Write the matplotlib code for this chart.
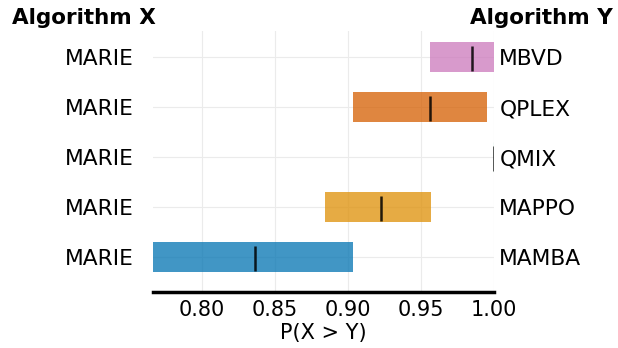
import matplotlib
matplotlib.use('Agg')
import matplotlib.pyplot as plt

# data (bottom to top)
algo_x = ['MARIE', 'MARIE', 'MARIE', 'MARIE', 'MARIE']
algo_y = ['MAMBA', 'MAPPO', 'QMIX', 'QPLEX', 'MBVD']
probs = [0.8365, 0.923, 1.0, 0.9565, 0.9854]
lower = [0.7666, 0.8845, 1.0, 0.9036, 0.9564]
upper = [0.9036, 0.9571, 1.0, 0.9954, 1.0]
colors = ['#0173b2', '#de8f05', '#029e73', '#d55e00', '#cc78bc']
xticks = [0.80, 0.85, 0.90, 0.95, 1.00]

fig = plt.figure(figsize=(6.18, 3.48), dpi=100)
W, H = 618, 348
ax = fig.add_axes([153 / W, 1 - 292 / H, (493.7 - 153) / W, (292 - 31) / H])

height = 0.6
for i in range(len(probs)):
    ax.barh(y=i, width=upper[i] - lower[i], height=height, left=lower[i],
            color=colors[i], alpha=0.75, edgecolor=colors[i], linewidth=0.8 if upper[i] == lower[i] else 0)
    ax.vlines(x=probs[i], ymin=i - 7.5 * height / 16, ymax=i + 6 * height / 16,
              color='k', alpha=0.85, linewidth=1.8)

ax.set_xlim(lower[0], 1.0)
ax.set_ylim(-0.7, 4.52)
ax.set_xticks(xticks)
ax.set_xticklabels([f'{t:.2f}' for t in xticks], fontsize=15)
ax.set_yticks(range(len(algo_x)))
ax.set_yticklabels(algo_x, fontsize=15.7)
ax.set_xlabel('P(X > Y)', fontsize=15, labelpad=2)
ax.grid(True, color='#ebebeb', linewidth=0.8)
ax.set_axisbelow(True)
ax.tick_params(axis='y', length=0, pad=14)
ax.tick_params(axis='x', length=0, pad=6)
for s in ['left', 'right', 'top']:
    ax.spines[s].set_visible(False)
ax.spines['bottom'].set_linewidth(2.5)
ax.spines['bottom'].set_color('black')

ax2 = ax.twinx()
ax2.set_ylim(ax.get_ylim())
ax2.set_yticks(range(len(algo_y)))
ax2.set_yticklabels(algo_y, fontsize=15.7)
ax2.tick_params(axis='y', length=0, pad=4)
for s in ['left', 'right', 'top', 'bottom']:
    ax2.spines[s].set_visible(False)

fig.text(12 / W, 1 - 18 / H, 'Algorithm X', fontsize=15.5, fontweight='bold', ha='left', va='center')
fig.text(613 / W, 1 - 18 / H, 'Algorithm Y', fontsize=15.5, fontweight='bold', ha='right', va='center')

fig.savefig('out.png', dpi=100)
